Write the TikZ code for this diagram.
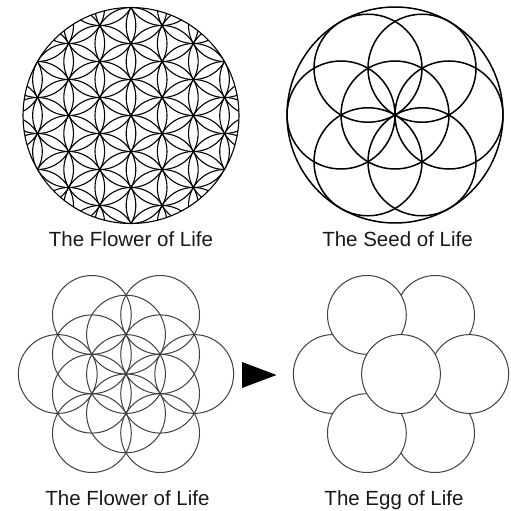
\documentclass[tikz,border=0pt]{standalone}
\usepackage{fontspec}
\setmainfont{Liberation Sans}
\tikzset{
  ring/.style={draw=black, line width=1.1pt},
  seedring/.style={draw=black, line width=1.5pt},
  thinring/.style={draw=black!75, line width=1pt},
  eggring/.style={draw=black!75, fill=white, line width=1pt},
  caption/.style={anchor=base, inner sep=0pt, text=black!90, font=\fontsize{20.5}{24}\selectfont}
}
\begin{document}
\begin{tikzpicture}[x=1pt, y=-1pt]
\useasboundingbox (0,0) rectangle (511,511);
\fill[white] (0,0) rectangle (511,511);
% centres of the four figures
\coordinate (flower) at (131,115.5);
\coordinate (seed) at (395,115);
\coordinate (flowertwo) at (126,374);
\coordinate (egg) at (401,374);

% flower of life, lattice clipped by its rim
\begin{scope}[shift={(flower)}]
  \begin{scope}
    \clip (0,0) circle[radius=108pt];
    \foreach \k in {-4,...,4}
      \foreach \m in {-5,...,5}
        \draw[ring] (\k*31.177,{(\m+0.5*\k)*36}) circle[radius=36pt];
  \end{scope}
  \draw[ring] (0,0) circle[radius=108pt];
\end{scope}

% seed of life
\begin{scope}[shift={(seed)}]
  \draw[seedring] (0,0) circle[radius=108pt];
  \draw[seedring] (0,0) circle[radius=54pt];
  \foreach \a in {0,60,...,300}
    \draw[seedring] (\a:54pt) circle[radius=54pt];
\end{scope}

% flower of life, 13 circles
\begin{scope}[shift={(flowertwo)}]
  \draw[thinring] (0,0) circle[radius=39.4pt];
  \foreach \a in {30,90,...,330}
    \draw[thinring] (\a:39.4pt) circle[radius=39.4pt];
  \foreach \a in {0,60,...,300}
    \draw[thinring] (\a:68.24pt) circle[radius=39.4pt];
\end{scope}

% egg of life, stacked discs
\begin{scope}[shift={(egg)}]
  \foreach \a in {180,60,300,120,0,240}
    \filldraw[eggring] (\a:68.24pt) circle[radius=39.4pt];
  \filldraw[eggring] (0,0) circle[radius=39.4pt];
\end{scope}

\fill[black] (242,362) -- (242,388) -- (276.5,375) -- cycle;

\node[caption] (flowername) at (131,246) {The Flower of Life};
\node[caption] (seedname) at (397.5,246) {The Seed of Life};
\node[caption] (flowertwoname) at (127.5,505) {The Flower of Life};
\node[caption] (eggname) at (394,505) {The Egg of Life};
\end{tikzpicture}
\end{document}
